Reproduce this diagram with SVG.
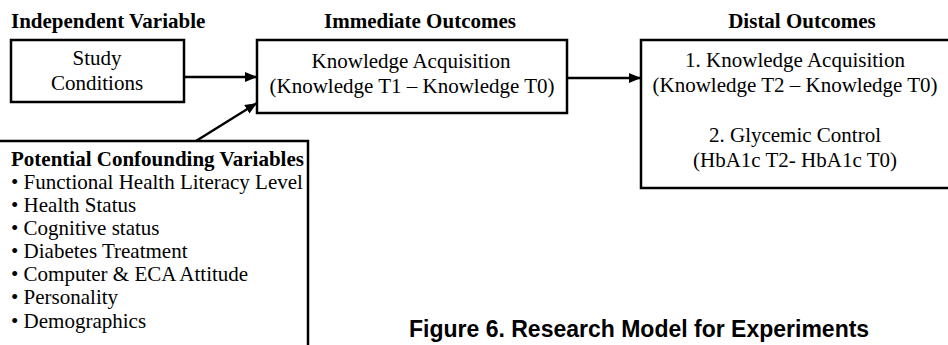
<svg xmlns="http://www.w3.org/2000/svg" width="948" height="345" viewBox="0 0 948 345">
<style>
.box{fill:#fff;stroke:#000;stroke-width:2.5}
.t{font-family:"Liberation Serif","Times New Roman",serif;font-size:21px;fill:#000}
.b{font-weight:bold}
.c{text-anchor:middle}
.conn{stroke:#000;stroke-width:2.5;fill:none;marker-end:url(#ah)}
.cap{font-family:"Liberation Sans",Arial,sans-serif;font-weight:bold;font-size:23px;fill:#000}
</style>
<defs>
<marker id="ah" viewBox="0 0 12 10" refX="12" refY="5" markerWidth="12" markerHeight="10" markerUnits="userSpaceOnUse" orient="auto">
<path d="M0,0 L12,5 L0,10 Z" fill="#000"/>
</marker>
</defs>
<rect width="948" height="345" fill="#fff"/>
<text class="t b" x="11" y="28">Independent Variable</text>
<text class="t b c" x="420" y="28">Immediate Outcomes</text>
<text class="t b c" x="802" y="28">Distal Outcomes</text>
<g id="study">
<rect class="box" x="11" y="40" width="173" height="62"/>
<text class="t c" x="97" y="65">Study</text>
<text class="t c" x="97" y="90">Conditions</text>
</g>
<g id="immediate">
<rect class="box" x="257" y="40" width="310" height="73"/>
<text class="t c" x="411" y="68">Knowledge Acquisition</text>
<text class="t c" x="412" y="93">(Knowledge T1 – Knowledge T0)</text>
</g>
<g id="distal">
<rect class="box" x="641" y="40" width="320" height="148"/>
<text class="t c" x="795" y="67">1. Knowledge Acquisition</text>
<text class="t c" x="795" y="92">(Knowledge T2 – Knowledge T0)</text>
<text class="t c" x="795" y="142">2. Glycemic Control</text>
<text class="t c" x="795" y="167">(HbA1c T2- HbA1c T0)</text>
</g>
<g id="confounding">
<rect class="box" x="-5" y="141" width="313" height="220"/>
<text class="t b" x="11" y="166">Potential Confounding Variables</text>
<text class="t" x="11" y="189">• Functional Health Literacy Level</text>
<text class="t" x="11" y="212">• Health Status</text>
<text class="t" x="11" y="235">• Cognitive status</text>
<text class="t" x="11" y="258">• Diabetes Treatment</text>
<text class="t" x="11" y="281">• Computer &amp; ECA Attitude</text>
<text class="t" x="11" y="304">• Personality</text>
<text class="t" x="11" y="328">• Demographics</text>
</g>
<g id="connectors">
<line class="conn" x1="184" y1="77" x2="257" y2="77"/>
<line class="conn" x1="196" y1="141" x2="257" y2="103"/>
<line class="conn" x1="567" y1="78" x2="641" y2="78"/>
</g>
<text class="cap" x="409" y="337">Figure 6. Research Model for Experiments</text>
</svg>
